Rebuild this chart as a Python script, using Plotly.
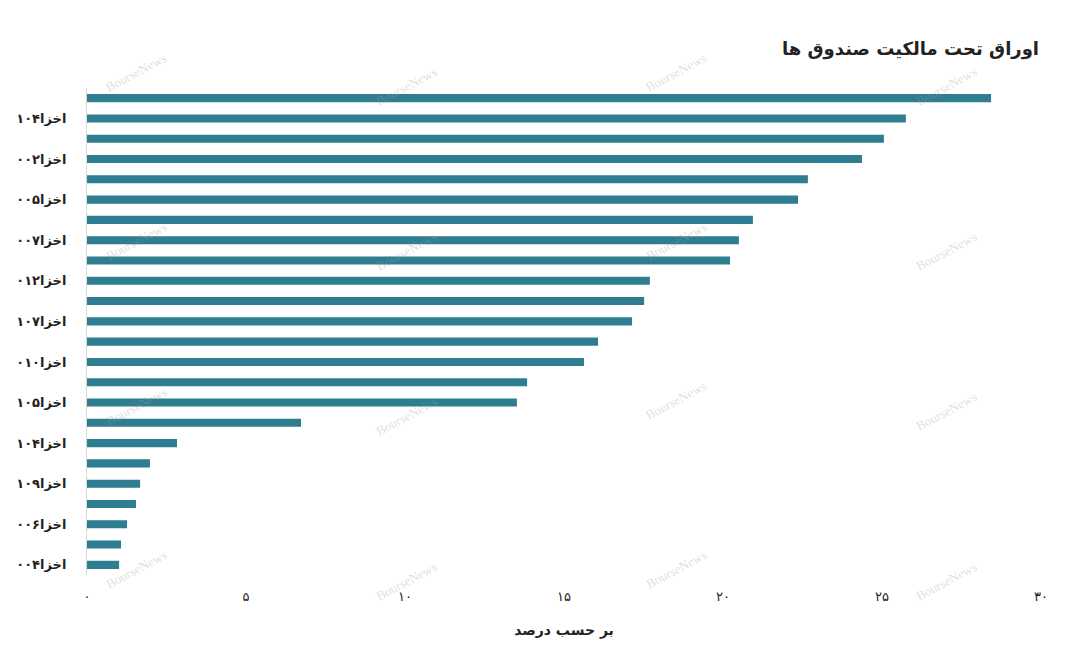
import plotly.graph_objects as go

# values, top bar first
values = [28.43, 25.75, 25.06, 24.37, 22.67, 22.36, 20.94, 20.50, 20.22, 17.70,
          17.52, 17.14, 16.07, 15.63, 13.84, 13.52, 6.73, 2.83, 1.98, 1.67,
          1.54, 1.26, 1.07, 1.01]
# only every second bar carries a readable label (2nd, 4th, ... from top)
labels = ["اخزا۱۰۴", "اخزا۰۰۲", "اخزا۰۰۵", "اخزا۰۰۷", "اخزا۰۱۲", "اخزا۱۰۷",
          "اخزا۰۱۰", "اخزا۱۰۵", "اخزا۱۰۴", "اخزا۱۰۹", "اخزا۰۰۶", "اخزا۰۰۴"]
x_ticks = [0, 5, 10, 15, 20, 25, 30]
x_tick_text = ["۰", "۵", "۱۰", "۱۵", "۲۰", "۲۵", "۳۰"]
title = "اوراق تحت مالکیت صندوق ها"
x_title = "بر حسب درصد"

positions = list(range(len(values)))
label_positions = positions[1::2]

FONT = "DejaVu Sans"
W, H = 1080, 656
ML, MR, MT, MB = 79, 47, 80, 89
PW, PH = W - ML - MR, H - MT - MB
OFF = 7  # page offset of the figure


def px(xs):
    return (xs - OFF - ML) / PW


def py(ys):
    return (H - MB - (ys - OFF)) / PH


fig = go.Figure(go.Bar(
    x=values, y=positions, orientation="h",
    marker=dict(color="#2e7d91", line=dict(width=0)),
    width=0.4,
))

# watermark (screen pixel positions)
wm = [(135, 72), (405, 85), (675, 72), (945, 85),
      (135, 240), (405, 250), (675, 240), (945, 250),
      (135, 405), (405, 415), (675, 400), (945, 410),
      (135, 568), (405, 580), (675, 568), (945, 580)]
annotations = []
for sx, sy in wm:
    annotations.append(dict(
        text="BourseNews", x=px(sx), y=py(sy), xref="paper", yref="paper",
        showarrow=False, textangle=-28, xanchor="center", yanchor="middle",
        font=dict(family="Liberation Serif", size=13, color="rgba(160,160,160,0.35)"),
    ))

annotations.append(dict(
    text="<b>" + title + "</b>", x=px(1040), y=py(48), xref="paper", yref="paper",
    showarrow=False, xanchor="right", yanchor="middle",
    font=dict(family=FONT, size=18, color="#222"),
))

fig.update_layout(
    width=W, height=H,
    margin=dict(l=ML, r=MR, t=MT, b=MB),
    paper_bgcolor="white", plot_bgcolor="white",
    showlegend=False,
    annotations=annotations,
    font=dict(family=FONT, color="#222"),
)

fig.update_xaxes(
    range=[0, 30], tickvals=x_ticks, ticktext=x_tick_text,
    showgrid=False, zeroline=False, showline=False, automargin=False,
    tickfont=dict(family=FONT, size=13, color="#222"),
    ticks="", ticklabelstandoff=12,
    title=dict(text="<b>" + x_title + "</b>", font=dict(family=FONT, size=14, color="#222"), standoff=22),
)
fig.update_yaxes(
    range=[len(values) - 0.5, -0.5],
    tickvals=label_positions, ticktext=["<b>" + t + "</b>" for t in labels],
    showgrid=False, zeroline=False, automargin=False,
    showline=True, linecolor="#d9d9d9", linewidth=1,
    ticks="", tickfont=dict(family=FONT, size=13, color="#222"),
    ticklabelstandoff=17,
)

fig.write_html("out.html")
